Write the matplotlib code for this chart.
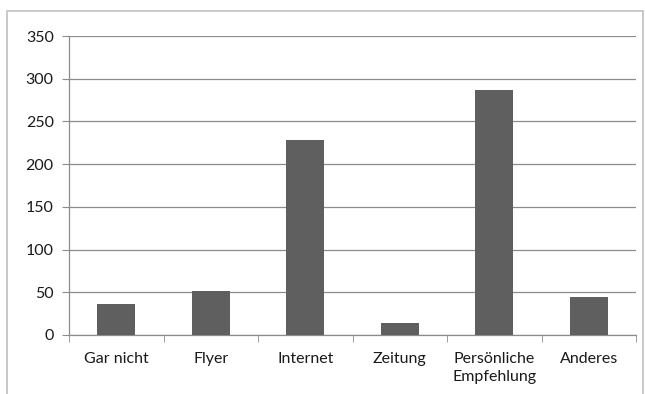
import matplotlib.pyplot as plt
import numpy as np
from matplotlib.patches import Rectangle

kategorien = ["Gar nicht", "Flyer", "Internet", "Zeitung", "Persönliche\nEmpfehlung", "Anderes"]
anzahl = [36, 52, 228, 14, 287, 44]
y_ticks = [0, 50, 100, 150, 200, 250, 300, 350]

plt.rcParams['font.family'] = ['Lato', 'DejaVu Sans']

fig = plt.figure(figsize=(6.45, 3.94), dpi=100)
ax = fig.add_axes([69 / 645, 1 - 335 / 394, (636 - 69) / 645, (335 - 36) / 394])

# Rahmen um das Diagramm
fig.patches.append(Rectangle((7 / 645, -0.1), (643 - 7) / 645, 1.1 - 11 / 394,
                             transform=fig.transFigure, fill=False,
                             edgecolor='#c0c0c0', linewidth=1.2))

x = np.arange(len(kategorien))
ax.bar(x, anzahl, width=0.4, color='#5f5f5f', zorder=3)

ax.set_xlim(-0.5, len(kategorien) - 0.5)
ax.set_ylim(0, 350)
ax.set_yticks(y_ticks)
ax.yaxis.grid(True, color='#8c8c8c', linewidth=0.9, zorder=0)

ax.set_xticks(x)
ax.set_xticklabels(kategorien, linespacing=1.35)
ax.set_xticks(np.arange(len(kategorien) + 1) - 0.5, minor=True)
ax.tick_params(axis='x', which='major', length=0, pad=12)
ax.tick_params(axis='x', which='minor', length=5, color='#8c8c8c', direction='out')
ax.tick_params(axis='y', length=5, color='#8c8c8c', pad=6)
ax.tick_params(labelsize=11.5, labelcolor='#1a1a1a')

for side in ['top', 'right']:
    ax.spines[side].set_visible(False)
for side in ['left', 'bottom']:
    ax.spines[side].set_color('#8c8c8c')
    ax.spines[side].set_linewidth(0.9)

fig.savefig('out.png', dpi=100)
